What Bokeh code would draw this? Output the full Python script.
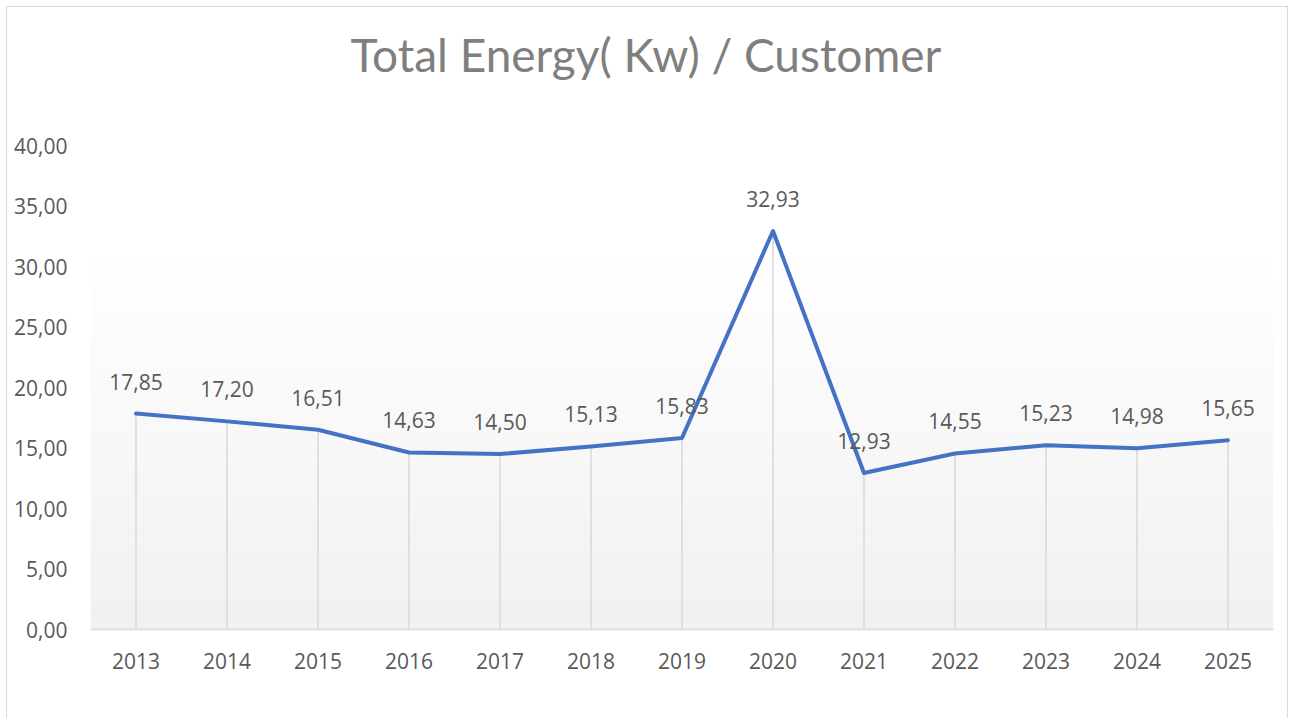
from bokeh.plotting import figure
from bokeh.models import ColumnDataSource, LabelSet, Range1d, CustomJSTickFormatter, FixedTicker, BoxAnnotation, Title
from bokeh.core.properties import value
from bokeh.embed import file_html
from bokeh.resources import INLINE

years = ["2013", "2014", "2015", "2016", "2017", "2018", "2019",
         "2020", "2021", "2022", "2023", "2024", "2025"]
values = [17.85, 17.20, 16.51, 14.63, 14.50, 15.13, 15.83,
          32.93, 12.93, 14.55, 15.23, 14.98, 15.65]
y_ticks = [0, 5, 10, 15, 20, 25, 30, 35, 40]
labels = [f"{v:.2f}".replace(".", ",") for v in values]
zeros = [0] * len(values)
title_text = "Total Energy( Kw)  / Customer"

src = ColumnDataSource(dict(x=years, y=values, lab=labels, y0=zeros))

FONT = "Open Sans"
TXT = "#595959"

p = figure(x_range=years, y_range=Range1d(0, 40), width=1280, height=711,
           output_backend="svg", toolbar_location=None,
           min_border_left=83, min_border_right=14, min_border_top=138, min_border_bottom=89)
p.styles = {"margin-left": "7px", "margin-top": "7px", "outline": "1px solid #d9d9d9"}

# spacer between the title and the plot area
p.add_layout(Title(text=" ", text_font_size="10px", standoff=41), "above")

p.title.text = title_text
p.title.align = "left"
p.title.offset = 260
p.title.vertical_align = "bottom"
p.title.text_font = "Lato"
p.title.text_font_size = "46px"
p.title.text_font_style = "normal"
p.title.text_color = "#7f7f7f"
p.title.standoff = 20

p.outline_line_color = None
p.background_fill_color = "#ffffff"
p.border_fill_color = "#ffffff"
p.xgrid.visible = False
p.ygrid.visible = False

# soft vertical gradient in the plot area
n_bands = 30
top_val = 33.0
for i in range(n_bands):
    t = i / (n_bands - 1)
    c = int(round(0xf1 + (0xff - 0xf1) * t))
    col = "#%02x%02x%02x" % (c, c, c)
    p.add_layout(BoxAnnotation(bottom=top_val * i / n_bands, top=top_val * (i + 1) / n_bands,
                               fill_color=col, fill_alpha=1.0, line_color=None, level="underlay"))

# drop lines
p.segment(x0="x", y0="y0", x1="x", y1="y", source=src, line_color="#d9d9d9", line_width=1.5)
# main line
p.line(x="x", y="y", source=src, line_color="#4472C4", line_width=4, line_join="round", line_cap="round")

p.add_layout(LabelSet(x="x", y="y", text="lab", source=src, y_offset=32,
                      text_align="center", text_baseline="middle",
                      text_font=value(FONT), text_font_size=value("21px"), text_color=TXT))

yax = p.yaxis[0]
yax.ticker = FixedTicker(ticks=y_ticks)
yax.formatter = CustomJSTickFormatter(code="return tick.toFixed(2).replace('.', ',');")
yax.axis_line_color = None
yax.major_tick_line_color = None
yax.minor_tick_line_color = None
yax.major_label_text_font = FONT
yax.major_label_text_font_size = "21px"
yax.major_label_text_color = TXT
yax.major_label_standoff = 17

xax = p.xaxis[0]
xax.axis_line_color = "#d9d9d9"
xax.axis_line_width = 1.5
xax.major_tick_line_color = None
xax.minor_tick_line_color = None
xax.major_label_text_font = FONT
xax.major_label_text_font_size = "21px"
xax.major_label_text_color = TXT
xax.major_label_standoff = 17

open("out.html", "w").write(file_html(p, INLINE))
